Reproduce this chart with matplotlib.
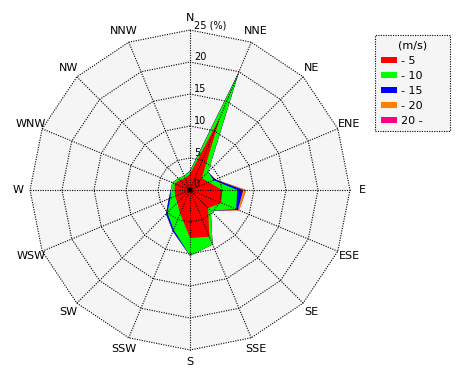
import numpy as np
import matplotlib
matplotlib.use('Agg')
import matplotlib.pyplot as plt
from matplotlib.patches import Polygon, Patch, Circle

# Wind directions, clockwise from north
directions = ['N', 'NNE', 'NE', 'ENE', 'E', 'ESE', 'SE', 'SSE',
              'S', 'SSW', 'SW', 'WSW', 'W', 'WNW', 'NW', 'NNW']

# Frequency (%) of each wind speed class per direction
speed_0_5 = [2.5, 12.3, 2.6, 3.2, 5.0, 5.3, 4.0, 7.9, 7.5, 4.0, 2.8, 2.5, 2.4, 2.6, 2.2, 2.0]
speed_5_10 = [0.4, 7.4, 1.4, 0.8, 2.4, 2.5, 0.6, 1.3, 2.8, 2.7, 2.2, 0.8, 0.6, 0.4, 0.4, 0.4]
speed_10_15 = [0.1, 0.3, 0.0, 0.3, 0.9, 0.3, 0.0, 0.0, 0.0, 0.3, 0.3, 0.3, 0.0, 0.0, 0.0, 0.0]
speed_15_20 = [0.0, 0.0, 0.0, 0.0, 0.5, 0.2, 0.0, 0.0, 0.0, 0.0, 0.0, 0.0, 0.0, 0.0, 0.0, 0.0]
speed_20_up = [0.0, 0.0, 0.0, 0.0, 0.0, 0.0, 0.0, 0.0, 0.0, 0.0, 0.0, 0.0, 0.0, 0.0, 0.0, 0.0]

class_labels = ['- 5', '- 10', '- 15', '- 20', '20 -']
class_colors = ['#ff0000', '#00ff00', '#0000ff', '#ff8000', '#ff0080']
ring_values = [5, 10, 15, 20, 25]

# Stacked (cumulative) radii
freqs = np.array([speed_0_5, speed_5_10, speed_10_15, speed_15_20, speed_20_up])
cumulative = np.cumsum(freqs, axis=0)

theta = np.deg2rad(np.arange(len(directions)) * 360.0 / len(directions))
sin_t, cos_t = np.sin(theta), np.cos(theta)


def polygon_xy(radii):
    return np.column_stack([radii * sin_t, radii * cos_t])


# Figure: 6.4 px per percent, rose centred at (190, 190) px
px = 6.4
fig = plt.figure(figsize=(4.7, 3.8), dpi=100)
ax = fig.add_axes([0, 0, 1, 1])
ax.set_xlim(-190 / px, 280 / px)
ax.set_ylim(-190 / px, 190 / px)
ax.set_aspect('equal')
ax.axis('off')

r_max = ring_values[-1]
ax.add_patch(Polygon(polygon_xy(np.full(16, r_max)), closed=True,
                     facecolor='#f5f5f5', edgecolor='none', zorder=0))

# stacked areas, outer class first
for k in reversed(range(len(class_labels))):
    ax.add_patch(Polygon(polygon_xy(cumulative[k]), closed=True,
                         facecolor=class_colors[k], edgecolor='none', zorder=1))

# grid
dotted = (0, (1, 1.2))
for r in ring_values:
    xy = polygon_xy(np.full(16, r))
    xy = np.vstack([xy, xy[:1]])
    ax.plot(xy[:, 0], xy[:, 1], color='black', lw=0.8, ls=dotted, zorder=2)
for s, c in zip(sin_t, cos_t):
    ax.plot([0, r_max * s], [0, r_max * c], color='black', lw=0.8, ls=dotted, zorder=2)

ax.add_patch(Circle((0, 0), 0.25, color='black', zorder=3))

# ring labels
ax.text(0.6, 0.1, '0', fontsize=7, ha='left', va='bottom', zorder=3)
for r in ring_values[:-1]:
    ax.text(0.6, r, str(r), fontsize=7, ha='left', va='bottom', zorder=3)
ax.text(0.6, r_max, '25 (%)', fontsize=7, ha='left', va='bottom', zorder=3)

# direction labels
R_lab = 26.9
for d, s, c in zip(directions, sin_t, cos_t):
    ax.text(R_lab * s, R_lab * c, d, fontsize=8, ha='center', va='center')

handles = [Patch(facecolor=c, edgecolor='none', label=l)
           for c, l in zip(class_colors, class_labels)]
leg = fig.legend(handles=handles, title='(m/s)', loc='upper left',
                 bbox_to_anchor=(375 / 470, 1 - 35 / 380, 75 / 470, 0), mode='expand',
                 borderaxespad=0, fontsize=8, title_fontsize=8, fancybox=False,
                 edgecolor='black', facecolor='#f5f5f5', framealpha=1,
                 handlelength=1.45, handleheight=0.45, handletextpad=0.4,
                 labelspacing=0.45, borderpad=0.5)
leg.get_frame().set_linestyle(dotted)
leg.get_frame().set_linewidth(0.8)

fig.savefig('out.png', dpi=100)
